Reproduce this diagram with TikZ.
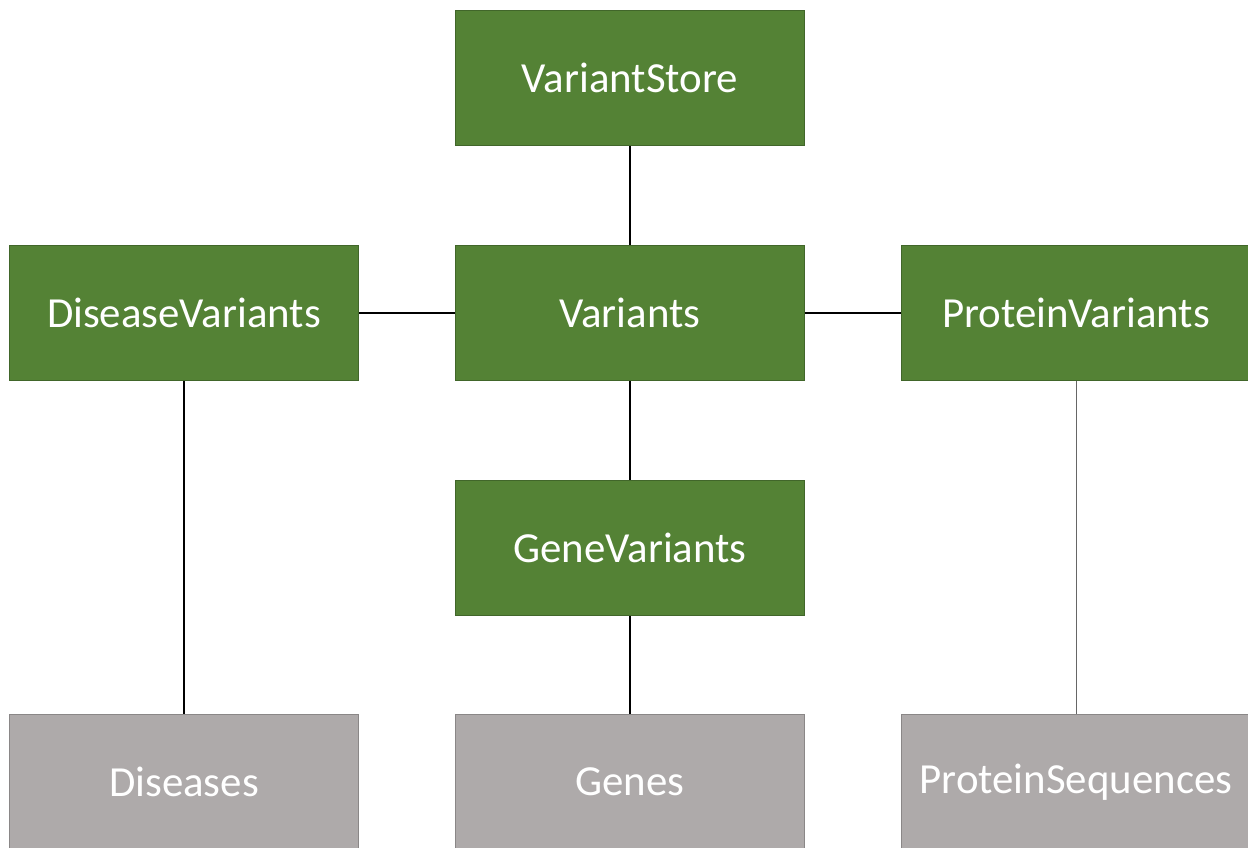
\documentclass[tikz,border=0pt]{standalone}
\usepackage{fontspec}
\setmainfont{Carlito}
\definecolor{boxgreen}{HTML}{548235}
\definecolor{edgegreen}{HTML}{41662A}
\definecolor{boxgray}{HTML}{AEAAAA}
\definecolor{edgegray}{HTML}{8A8787}
\begin{document}
\begin{tikzpicture}[x=0.02cm,y=-0.02cm,
  entity/.style={rectangle, minimum width=6.98cm, minimum height=2.7cm,
    inner sep=0pt, line width=0.8pt, text=white, font=\fontsize{24.4}{28}\selectfont},
  table/.style={entity, fill=boxgreen, draw=edgegreen},
  source/.style={entity, fill=boxgray, draw=edgegray},
  link/.style={draw=black, line width=0.6pt},
  faint/.style={draw=black!60, line width=0.5pt}]
  \useasboundingbox (0,0) rectangle (1248,848);
  \clip (0,0) rectangle (1248,848);
  \fill[white] (0,0) rectangle (1248,848);

  % core tables
  \node[table] (store)   at (630,78)  {VariantStore};
  \node[table] (var)     at (630,313) {Variants};
  \node[table] (disvar)  at (184,313) {DiseaseVariants};
  \node[table] (protvar) at (1076,313) {ProteinVariants};
  \node[table] (genevar) at (630,548) {GeneVariants};

  % source tables
  \node[source] (dis)  at (184,782)  {Diseases};
  \node[source] (gene) at (630,782)  {Genes};
  \node[source] (prot) at (1076,782) {ProteinSequences};

  % links
  \draw[link] (store.south) -- (var.north);
  \draw[link] (disvar.east) -- (var.west);
  \draw[link] (var.east) -- (protvar.west);
  \draw[link] (var.south) -- (genevar.north);
  \draw[link] (genevar.south) -- (gene.north);
  \draw[link] (disvar.south) -- (dis.north);
  \draw[faint] (protvar.south) -- (prot.north);
\end{tikzpicture}
\end{document}
